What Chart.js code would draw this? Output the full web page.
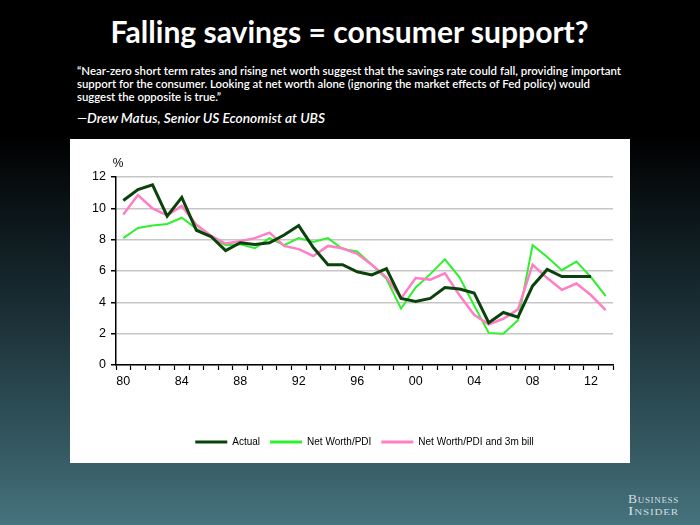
<!DOCTYPE html>
<html><head><meta charset="utf-8">
<script src="https://cdn.jsdelivr.net/npm/chart.js@4.4.0/dist/chart.umd.min.js"></script>
<style>
html,body{margin:0;padding:0;}
body{width:700px;height:525px;overflow:hidden;position:relative;
 background:linear-gradient(180deg,#000 0%,#000 26%,#0b1417 40%,#1b2f36 60%,#33565f 84%,#46737e 100%);
 font-family:Lato,'Open Sans',sans-serif;}
.t{position:absolute;white-space:nowrap;color:#fff;}
.t span{display:inline-block;}
#title{left:0;top:13.4px;width:700px;text-align:center;font-size:30px;font-weight:700;line-height:36px;}
.q{left:77px;font-size:11.5px;font-weight:600;line-height:14px;}
#attr{left:77px;top:110px;font-size:13px;font-weight:600;font-style:italic;line-height:16px;}
.bi{left:628px;font-family:'Liberation Serif','DejaVu Serif',serif;font-variant:small-caps;font-size:12px;line-height:13px;color:#d5dee0;letter-spacing:0.6px;}
#panel{position:absolute;left:70px;top:139px;width:560px;height:324px;background:#fff;}
</style></head>
<body>
<div class="t" id="title"><span style="transform-origin:center">Falling savings = consumer support?</span></div>
<div class="t q" style="top:63.5px"><span data-w="544">“Near-zero short term rates and rising net worth suggest that the savings rate could fall, providing important</span></div>
<div class="t q" style="top:76.9px"><span data-w="513">support for the consumer. Looking at net worth alone (ignoring the market effects of Fed policy) would</span></div>
<div class="t q" style="top:90.2px"><span data-w="144">suggest the opposite is true.”</span></div>
<div class="t" id="attr"><span data-w="248">—Drew Matus, Senior US Economist at UBS</span></div>
<div class="t bi" style="top:492.7px"><span data-w="51">Business</span></div>
<div class="t bi" style="top:505.2px"><span data-w="51">Insider</span></div>
<div id="panel"><canvas id="c"></canvas></div>
<script>
// ---- data ----
const years = ['80','81','82','83','84','85','86','87','88','89','90','91','92','93','94','95','96','97','98','99','00','01','02','03','04','05','06','07','08','09','10','11','12','13'];
const shownTicks = ['80','84','88','92','96','00','04','08','12'];
const yTicks = [0, 2, 4, 6, 8, 10, 12];
const unitLabel = '%';
const seriesNames = ['Actual', 'Net Worth/PDI', 'Net Worth/PDI and 3m bill'];
const actual = [10.5, 11.2, 11.5, 9.5, 10.7, 8.6, 8.2, 7.3, 7.8, 7.7, 7.8, 8.3, 8.9, 7.5, 6.4, 6.4, 5.95, 5.75, 6.15, 4.25, 4.05, 4.25, 4.95, 4.85, 4.6, 2.7, 3.35, 3.05, 5.05, 6.1, 5.65, 5.65, 5.65, null];
const netWorthPDI = [8.1, 8.75, 8.9, 9.0, 9.4, 8.7, 8.2, 7.65, 7.7, 7.45, 8.1, 7.65, 8.1, 7.85, 8.1, 7.4, 7.25, 6.4, 5.5, 3.6, 4.95, 5.8, 6.75, 5.6, 3.8, 2.05, 2.0, 2.85, 7.65, 6.9, 6.05, 6.6, 5.6, 4.4];
const netWorthPDI3m = [9.6, 10.85, 10.0, 9.55, 10.15, 8.95, 8.25, 7.75, 7.9, 8.1, 8.45, 7.6, 7.4, 6.95, 7.6, 7.45, 7.1, 6.4, 5.6, 4.25, 5.55, 5.45, 5.85, 4.45, 3.2, 2.6, 2.95, 3.55, 6.4, 5.55, 4.8, 5.2, 4.45, 3.5];

// ---- text fitting ----
document.querySelectorAll('.t span').forEach(s => {
  const w = s.getBoundingClientRect().width;
  if (s.dataset.w) { s.style.transformOrigin = 'left center'; s.style.transform = 'scaleX(' + (parseFloat(s.dataset.w) / w) + ')'; }
  else { s.style.transform = 'scaleX(' + (478 / w) + ')'; }
});

const axisFont = { family: "'Liberation Sans', Arial, sans-serif", size: 12.5 };
const unitPlugin = {
  id: 'unit',
  afterDraw(chart) {
    const { ctx, chartArea } = chart;
    ctx.save();
    ctx.font = "12px 'Liberation Sans', Arial, sans-serif";
    ctx.fillStyle = '#000'; ctx.textAlign = 'center'; ctx.textBaseline = 'middle';
    ctx.fillText(unitLabel, chartArea.left + 2, chartArea.top - 13);
    ctx.restore();
  }
};
const legendShift = {
  id: 'legendShift',
  afterLayout(chart) {
    const l = chart.legend; if (!l) return;
    l.left = chart.chartArea.left; l.right = chart.chartArea.right;
  }
};

new Chart(document.getElementById('c'), {
  type: 'line',
  data: {
    labels: years,
    datasets: [
      { label: seriesNames[0], data: actual, borderColor: '#0b420b', backgroundColor: '#0b420b', borderWidth: 3, order: 0 },
      { label: seriesNames[1], data: netWorthPDI, borderColor: '#2ef02e', backgroundColor: '#2ef02e', borderWidth: 2, order: 2 },
      { label: seriesNames[2], data: netWorthPDI3m, borderColor: '#ff7ec4', backgroundColor: '#ff7ec4', borderWidth: 2.5, order: 1 }
    ]
  },
  options: {
    responsive: true, maintainAspectRatio: false, animation: false,
    layout: { padding: { left: 0, right: 17, top: 38, bottom: 6 } },
    elements: { point: { radius: 0, hoverRadius: 0 }, line: { tension: 0 } },
    plugins: {
      tooltip: { enabled: false },
      legend: {
        position: 'bottom',
        labels: {
          boxWidth: 32, boxHeight: 3, padding: 10, color: '#000',
          font: { family: "'Liberation Sans', Arial, sans-serif", size: 10 },
          sort: (a, b) => a.datasetIndex - b.datasetIndex,
          generateLabels(chart) {
            return Chart.defaults.plugins.legend.labels.generateLabels(chart)
              .map(l => Object.assign({}, l, { lineWidth: 0, fillStyle: l.strokeStyle }));
          }
        }
      }
    },
    scales: {
      x: {
        type: 'category', offset: true,
        grid: { display: true, drawOnChartArea: false, drawTicks: true, tickLength: 5, tickColor: '#000', tickWidth: 1.2, offset: true },
        border: { color: '#000', width: 1.5 },
        ticks: {
          autoSkip: false, maxRotation: 0, minRotation: 0, padding: 4, color: '#000', font: axisFont,
          callback: function (v) { const l = this.getLabelForValue(v); return shownTicks.includes(l) ? l : ''; }
        },
        afterFit(s) { s.height = 62; }
      },
      y: {
        min: yTicks[0], max: yTicks[yTicks.length - 1],
        afterBuildTicks(s) { s.ticks = yTicks.map(v => ({ value: v })); },
        grid: { color: '#c6c6c6', lineWidth: 1.5, tickColor: '#000', tickLength: 5 },
        border: { color: '#000', width: 1.5 },
        ticks: { padding: 5, color: '#000', font: axisFont },
        afterFit(s) { s.width = 46; }
      }
    }
  },
  plugins: [unitPlugin, legendShift]
});
</script>
</body></html>
